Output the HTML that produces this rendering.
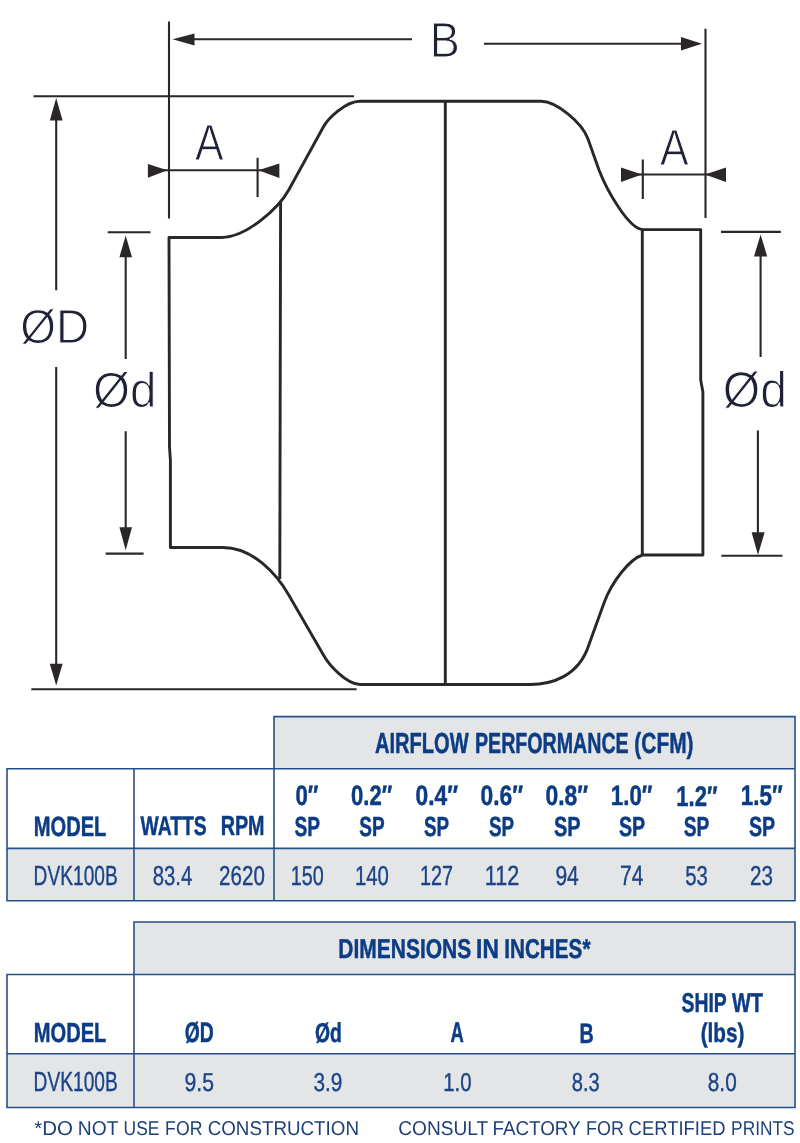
<!DOCTYPE html>
<html>
<head>
<meta charset="utf-8">
<style>
html,body{margin:0;padding:0;background:#fff;}
body{width:800px;height:1143px;overflow:hidden;}
svg{display:block;filter:blur(0.3px);}
.dl{stroke:#2b2728;stroke-width:2.1;fill:none;stroke-linecap:butt;}
.bl{stroke:#2b2728;stroke-width:2.9;fill:none;stroke-linejoin:round;}
.ah{fill:#2b2728;stroke:none;}
text{font-family:"Liberation Sans",sans-serif;text-rendering:geometricPrecision;}
.lt{fill:#1f2236;stroke:#fff;stroke-width:1.0;}
.tb{stroke:#24508c;stroke-width:1.6;fill:none;stroke-linecap:square;}
.hd{font-weight:bold;fill:#0c3c84;stroke:#0c3c84;stroke-width:0.5;stroke-linejoin:round;}
.dt{fill:#1a4487;stroke:#1a4487;stroke-width:0.4;stroke-linejoin:round;}
.ft{fill:#1d3f7a;}
</style>
</head>
<body>
<svg width="800" height="1143" viewBox="0 0 800 1143">
<!-- extension lines -->
<path class="dl" d="M169,21.5 V218.5 M705.5,28.8 V218 M33.5,96.3 H354 M31.3,689.2 H356.6"/>
<!-- B dimension -->
<path class="dl" d="M190,39.3 H412 M484,43.7 H686"/>
<path class="ah" d="M172.5,39.3 L194.5,33.5 L194.5,45.5 Z"/>
<path class="ah" d="M702,43.7 L681,37 L681,50.4 Z"/>
<!-- OD dimension -->
<path class="dl" d="M56.2,116 V290.2 M56.2,367 V668"/>
<path class="ah" d="M56.2,98 L49.8,120.6 L62.6,120.6 Z"/>
<path class="ah" d="M56.2,685.6 L49.8,663.8 L62.6,663.8 Z"/>
<!-- Od left -->
<path class="dl" d="M107.7,232.2 H150.5 M105.6,553.6 H143.6 M125.7,252 V359 M125.7,431.2 V532"/>
<path class="ah" d="M125.7,235.5 L119.4,257.2 L132,257.2 Z"/>
<path class="ah" d="M125.7,550.3 L119.4,527.2 L132,527.2 Z"/>
<!-- Od right -->
<path class="dl" d="M721,231.9 H780.8 M721.3,555.7 H782.5 M760.6,252 V357 M757.9,430.6 V537"/>
<path class="ah" d="M760.6,234.4 L754,256.5 L767.2,256.5 Z"/>
<path class="ah" d="M758,555 L751.6,532.2 L764.6,532.2 Z"/>
<!-- A left -->
<path class="dl" d="M160,170.2 H275 M257.6,157.7 V197"/>
<path class="ah" d="M167.4,170.2 L147.9,163.9 L147.9,177.7 Z"/>
<path class="ah" d="M258.4,170.2 L279.4,163.5 L279.4,178 Z"/>
<!-- A right -->
<path class="dl" d="M630,174.5 H718 M642.8,159.5 V199"/>
<path class="ah" d="M642,174.5 L621,167.4 L621,181.9 Z"/>
<path class="ah" d="M705,174.5 L726,167.4 L726,181.9 Z"/>
<!-- body -->
<path class="bl" d="M169,237.5 H221.7 C246.7,237.5 278.75,207.8 288.75,190 L323.75,126.25 C327.75,119.2 345,101.25 360,101.25 H541 C556,101.3 582,122.2 588,139 L599,170 C607,190.8 629,229.3 643,229.6 H700.7 V380 L702.9,392 V555 H642.5 C630,559 612,581 604,603 L589,644.5 C578.5,677.5 550,684.5 530,684.5 H360 C346,684 329,664.7 324,656 L288.75,595 C276.75,574.1 253,547.5 223,547.5 H170.4 V460 L169.5,447 Z"/>
<path class="bl" d="M280.6,202 L279.8,579 M445.3,101 V684 M642.3,229.6 V555"/>
<text class="lt" style="font-size:48.04px" transform="translate(429.77,57.40) scale(0.9386,1.0302)">B</text>
<text class="lt" style="font-size:49.57px" transform="translate(195.03,160.10) scale(0.8666,1.0292)">A</text>
<text class="lt" style="font-size:49.42px" transform="translate(660.02,165.30) scale(0.8692,1.0293)">A</text>
<text class="lt" style="font-size:46.38px" transform="translate(20.29,342.50) scale(0.9902,1.0312)">ØD</text>
<text class="lt" style="font-size:48.06px" transform="translate(92.92,406.90) scale(0.9906,1.0289)">Ød</text>
<text class="lt" style="font-size:49.03px" transform="translate(722.70,407.30) scale(0.9825,1.0283)">Ød</text>
<!-- TABLE 1 -->
<rect x="274" y="716.6" width="521" height="52" fill="#e4e5e7"/>
<rect x="7" y="848.4" width="788" height="52.4" fill="#e4e5e7"/>
<path class="tb" d="M274,716.6 H795 V900.8 H7 V768.7 H795 M274,716.6 V900.8 M134,768.7 V900.8 M7,848.4 H795"/>
<!-- TABLE 2 -->
<rect x="134" y="922" width="661" height="52.5" fill="#e4e5e7"/>
<rect x="7" y="1053.7" width="788" height="53.8" fill="#e4e5e7"/>
<path class="tb" d="M134,922 H795 V1107.5 H7 V974.5 H795 M134,922 V1107.5 M7,1053.7 H795"/>
<text class="hd" style="font-size:29.71px" transform="translate(374.88,752.55) scale(0.6770,0.9756)">AIRFLOW</text>
<text class="hd" style="font-size:29.71px" transform="translate(475.01,752.55) scale(0.6602,0.9756)">PERFORMANCE</text>
<text class="hd" style="font-size:29.71px" transform="translate(634.34,752.55) scale(0.7031,0.9756)">(CFM)</text>
<text class="hd" style="font-size:28.59px" transform="translate(33.78,835.97) scale(0.7037,0.9754)">MODEL</text>
<text class="hd" style="font-size:27.61px" transform="translate(140.49,835.08) scale(0.6990,0.9745)">WATTS</text>
<text class="hd" style="font-size:28.41px" transform="translate(220.71,835.35) scale(0.6944,0.9745)">RPM</text>
<text class="hd" style="font-size:28.73px" transform="translate(295.50,805.47) scale(0.7723,0.9755)">0″</text>
<text class="hd" style="font-size:28.73px" transform="translate(351.11,805.47) scale(0.7677,0.9755)">0.2″</text>
<text class="hd" style="font-size:28.73px" transform="translate(415.48,805.47) scale(0.7927,0.9755)">0.4″</text>
<text class="hd" style="font-size:28.73px" transform="translate(480.48,805.47) scale(0.7927,0.9755)">0.6″</text>
<text class="hd" style="font-size:28.73px" transform="translate(545.47,805.47) scale(0.7965,0.9755)">0.8″</text>
<text class="hd" style="font-size:28.73px" transform="translate(610.85,805.47) scale(0.7743,0.9755)">1.0″</text>
<text class="hd" style="font-size:29.14px" transform="translate(676.37,805.75) scale(0.7558,0.9755)">1.2″</text>
<text class="hd" style="font-size:29.14px" transform="translate(740.85,805.47) scale(0.7673,0.9755)">1.5″</text>
<text class="hd" style="font-size:28.31px" transform="translate(294.41,836.07) scale(0.6766,0.9751)">SP</text>
<text class="hd" style="font-size:28.31px" transform="translate(359.32,836.07) scale(0.6710,0.9751)">SP</text>
<text class="hd" style="font-size:28.31px" transform="translate(424.02,836.07) scale(0.6654,0.9751)">SP</text>
<text class="hd" style="font-size:28.31px" transform="translate(489.02,836.07) scale(0.6654,0.9751)">SP</text>
<text class="hd" style="font-size:28.31px" transform="translate(553.89,836.07) scale(0.7044,0.9751)">SP</text>
<text class="hd" style="font-size:28.31px" transform="translate(619.00,836.07) scale(0.6933,0.9751)">SP</text>
<text class="hd" style="font-size:28.31px" transform="translate(683.81,836.07) scale(0.6766,0.9751)">SP</text>
<text class="hd" style="font-size:28.31px" transform="translate(749.00,836.07) scale(0.6933,0.9751)">SP</text>
<text class="dt" style="font-size:28.17px" transform="translate(33.62,884.52) scale(0.6800,0.9800)">DVK100B</text>
<text class="dt" style="font-size:27.89px" transform="translate(152.74,884.73) scale(0.7286,0.9798)">83.4</text>
<text class="dt" style="font-size:27.89px" transform="translate(219.12,884.73) scale(0.7374,0.9798)">2620</text>
<text class="dt" style="font-size:27.89px" transform="translate(290.87,884.73) scale(0.7079,0.9798)">150</text>
<text class="dt" style="font-size:27.89px" transform="translate(354.92,884.73) scale(0.7287,0.9798)">140</text>
<text class="dt" style="font-size:28.29px" transform="translate(419.97,885.00) scale(0.7002,0.9798)">127</text>
<text class="dt" style="font-size:28.29px" transform="translate(484.82,885.00) scale(0.7628,0.9798)">112</text>
<text class="dt" style="font-size:27.89px" transform="translate(555.40,884.73) scale(0.7555,0.9798)">94</text>
<text class="dt" style="font-size:28.70px" transform="translate(620.10,885.00) scale(0.7342,0.9798)">74</text>
<text class="dt" style="font-size:27.89px" transform="translate(685.34,884.73) scale(0.7276,0.9798)">53</text>
<text class="dt" style="font-size:27.89px" transform="translate(750.12,884.73) scale(0.7383,0.9798)">23</text>
<text class="hd" style="font-size:27.97px" transform="translate(338.22,958.45) scale(0.7508,0.9741)">DIMENSIONS</text>
<text class="hd" style="font-size:27.97px" transform="translate(476.09,958.45) scale(0.8158,0.9741)">IN</text>
<text class="hd" style="font-size:27.97px" transform="translate(504.24,958.45) scale(0.7397,0.9741)">INCHES*</text>
<text class="hd" style="font-size:28.17px" transform="translate(33.78,1041.88) scale(0.7143,0.9750)">MODEL</text>
<text class="hd" style="font-size:28.99px" transform="translate(184.71,1042.25) scale(0.6663,0.9750)">ØD</text>
<text class="hd" style="font-size:27.92px" transform="translate(315.01,1042.25) scale(0.6933,0.9751)">Ød</text>
<text class="hd" style="font-size:29.28px" transform="translate(450.54,1042.35) scale(0.6275,0.9752)">A</text>
<text class="hd" style="font-size:28.62px" transform="translate(579.41,1042.50) scale(0.6887,0.9747)">B</text>
<text class="hd" style="font-size:27.83px" transform="translate(681.51,1011.65) scale(0.6962,0.9740)">SHIP</text>
<text class="hd" style="font-size:27.83px" transform="translate(732.09,1011.65) scale(0.7147,0.9740)">WT</text>
<text class="hd" style="font-size:27.78px" transform="translate(700.65,1042.25) scale(0.7455,0.9750)">(lbs)</text>
<text class="dt" style="font-size:28.17px" transform="translate(33.62,1090.52) scale(0.6808,0.9800)">DVK100B</text>
<text class="dt" style="font-size:26.48px" transform="translate(184.49,1090.94) scale(0.7989,0.9787)">9.5</text>
<text class="dt" style="font-size:26.48px" transform="translate(313.52,1090.94) scale(0.7844,0.9787)">3.9</text>
<text class="dt" style="font-size:26.48px" transform="translate(443.22,1090.94) scale(0.7702,0.9787)">1.0</text>
<text class="dt" style="font-size:26.48px" transform="translate(571.85,1090.94) scale(0.7582,0.9787)">8.3</text>
<text class="dt" style="font-size:26.48px" transform="translate(707.82,1090.94) scale(0.7841,0.9787)">8.0</text>
<text class="ft" style="font-size:19.93px" transform="translate(34.29,1135.00) scale(1.0285,1.0000)">*DO</text>
<text class="ft" style="font-size:19.93px" transform="translate(77.86,1135.00) scale(0.9662,1.0000)">NOT</text>
<text class="ft" style="font-size:19.93px" transform="translate(123.60,1135.00) scale(0.8762,1.0000)">USE</text>
<text class="ft" style="font-size:19.93px" transform="translate(165.09,1135.00) scale(0.8871,1.0000)">FOR</text>
<text class="ft" style="font-size:19.93px" transform="translate(207.66,1135.00) scale(0.9428,1.0000)">CONSTRUCTION</text>
<text class="ft" style="font-size:19.93px" transform="translate(398.24,1135.00) scale(0.9592,1.0000)">CONSULT</text>
<text class="ft" style="font-size:19.93px" transform="translate(492.49,1135.00) scale(0.9445,1.0000)">FACTORY</text>
<text class="ft" style="font-size:19.93px" transform="translate(586.07,1135.00) scale(0.8997,1.0000)">FOR</text>
<text class="ft" style="font-size:19.93px" transform="translate(628.58,1135.00) scale(0.9249,1.0000)">CERTIFIED</text>
<text class="ft" style="font-size:19.93px" transform="translate(731.12,1135.00) scale(0.8676,1.0000)">PRINTS</text>
</svg>
</body>
</html>
